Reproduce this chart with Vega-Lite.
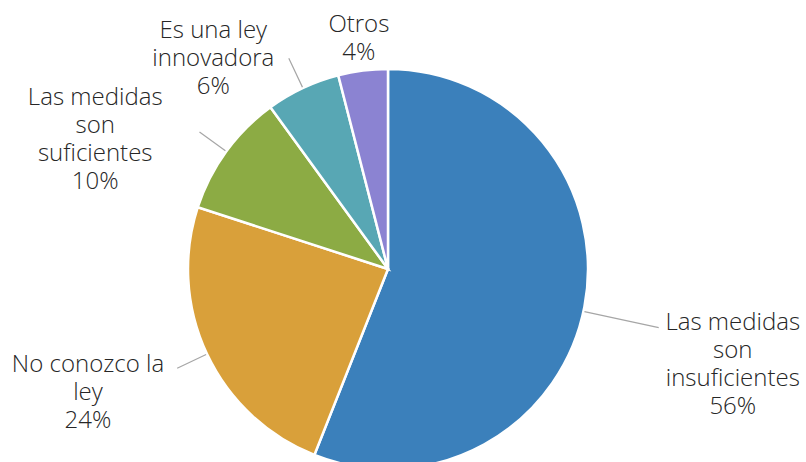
{
  "$schema": "https://vega.github.io/schema/vega-lite/v6.json",
  "autosize": "none",
  "width": 776,
  "height": 386,
  "padding": {"left": 0, "top": 76, "right": 30, "bottom": 0},
  "background": "white",
  "view": {"stroke": null},
  "data": {
    "values": [
      {"categoria": "Las medidas son insuficientes", "etiqueta": "Las medidas\nson\ninsuficientes", "porcentaje": 56},
      {"categoria": "No conozco la ley", "etiqueta": "No conozco la\nley", "porcentaje": 24},
      {"categoria": "Las medidas son suficientes", "etiqueta": "Las medidas\nson\nsuficientes", "porcentaje": 10},
      {"categoria": "Es una ley innovadora", "etiqueta": "Es una ley\ninnovadora", "porcentaje": 6},
      {"categoria": "Otros", "etiqueta": "Otros", "porcentaje": 4}
    ]
  },
  "transform": [
    {"stack": "porcentaje", "groupby": [], "sort": [{"field": "porcentaje", "order": "descending"}], "as": ["ini", "fin"]},
    {"calculate": "(datum.ini + datum.fin) / 2", "as": "medio"},
    {"calculate": "datum.etiqueta + '\\n' + datum.porcentaje + '%'", "as": "texto"}
  ],
  "layer": [
    {
      "mark": {"type": "arc", "outerRadius": 200, "stroke": "white", "strokeWidth": 2.5},
      "encoding": {
        "theta": {"field": "ini", "type": "quantitative", "stack": null, "scale": {"domain": [0, 100]}},
        "theta2": {"field": "fin"},
        "color": {
          "field": "categoria", "type": "nominal", "legend": null,
          "scale": {
            "domain": ["Las medidas son insuficientes", "No conozco la ley", "Las medidas son suficientes", "Es una ley innovadora", "Otros"],
            "range": ["#3b80bb", "#d9a03a", "#8cab44", "#58a7b4", "#8b83d2"]
          }
        }
      }
    },
    {
      "transform": [{"filter": "datum.categoria == 'Las medidas son insuficientes'"}],
      "mark": {"type": "arc", "outerRadius": 277, "innerRadius": 201, "thetaOffset": 0.025, "theta2Offset": 0.025, "filled": false, "stroke": "#a6a6a6", "strokeWidth": 1.2},
      "encoding": {
        "theta": {"field": "medio", "type": "quantitative", "stack": null},
        "theta2": {"field": "medio"}
      }
    },
    {
      "transform": [{"filter": {"field": "categoria", "oneOf": ["No conozco la ley", "Las medidas son suficientes", "Es una ley innovadora"]}}],
      "mark": {"type": "arc", "outerRadius": 233, "innerRadius": 201, "filled": false, "stroke": "#a6a6a6", "strokeWidth": 1.2},
      "encoding": {
        "theta": {"field": "medio", "type": "quantitative", "stack": null},
        "theta2": {"field": "medio"}
      }
    },
    {
      "transform": [{"filter": "datum.categoria == 'Las medidas son insuficientes'"}],
      "mark": {"type": "text", "radius": 349, "thetaOffset": -0.033, "font": "Open Sans", "fontSize": 24, "fontWeight": 300, "lineHeight": 28, "lineBreak": "\n", "align": "center", "baseline": "middle", "color": "#262626"},
      "encoding": {"theta": {"field": "medio", "type": "quantitative", "stack": null}, "text": {"field": "texto"}}
    },
    {
      "transform": [{"filter": "datum.categoria == 'No conozco la ley'"}],
      "mark": {"type": "text", "radius": 315, "thetaOffset": 0.13, "font": "Open Sans", "fontSize": 24, "fontWeight": 300, "lineHeight": 28, "lineBreak": "\n", "align": "center", "baseline": "middle", "color": "#262626"},
      "encoding": {"theta": {"field": "medio", "type": "quantitative", "stack": null}, "text": {"field": "texto"}}
    },
    {
      "transform": [{"filter": "datum.categoria == 'Las medidas son suficientes'"}],
      "mark": {"type": "text", "radius": 339, "thetaOffset": -0.1, "font": "Open Sans", "fontSize": 24, "fontWeight": 300, "lineHeight": 28, "lineBreak": "\n", "align": "center", "baseline": "middle", "color": "#262626"},
      "encoding": {"theta": {"field": "medio", "type": "quantitative", "stack": null}, "text": {"field": "texto"}}
    },
    {
      "transform": [{"filter": "datum.categoria == 'Es una ley innovadora'"}],
      "mark": {"type": "text", "radius": 295, "thetaOffset": -0.194, "font": "Open Sans", "fontSize": 24, "fontWeight": 300, "lineHeight": 28, "lineBreak": "\n", "align": "center", "baseline": "middle", "color": "#262626"},
      "encoding": {"theta": {"field": "medio", "type": "quantitative", "stack": null}, "text": {"field": "texto"}}
    },
    {
      "transform": [{"filter": "datum.categoria == 'Otros'"}],
      "mark": {"type": "text", "radius": 246, "thetaOffset": 0.007, "font": "Open Sans", "fontSize": 24, "fontWeight": 300, "lineHeight": 28, "lineBreak": "\n", "align": "center", "baseline": "middle", "color": "#262626"},
      "encoding": {"theta": {"field": "medio", "type": "quantitative", "stack": null}, "text": {"field": "texto"}}
    }
  ]
}
